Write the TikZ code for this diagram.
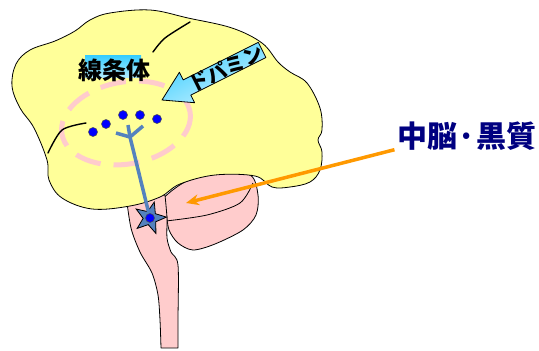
\documentclass[tikz,border=0pt]{standalone}
\usepackage{fontspec}
\newfontfamily\jp{Noto Sans CJK JP}
\usetikzlibrary{arrows.meta}
\usetikzlibrary{shapes.geometric}
\definecolor{brainyellow}{RGB}{255,255,153}
\definecolor{stempink}{RGB}{255,204,204}
\definecolor{neuronblue}{RGB}{84,130,190}
\definecolor{skyblue}{RGB}{51,204,255}
\definecolor{fibreorange}{RGB}{255,153,0}
\definecolor{labelnavy}{RGB}{0,0,128}

\begin{document}
\begin{tikzpicture}[x=1pt, y=-1pt, line width=0.8pt,
		lobe/.style={draw=black, line join=round},
		sulcus/.style={line width=1.4pt, line cap=round},
		cell/.style={circle, fill=blue, draw=black!70, line width=0.5pt,
						inner sep=0pt, minimum size=9pt},
		axon/.style={neuronblue, line width=3.5pt}]

		\useasboundingbox (0,0) rectangle (539,351);

		% cerebellum and brainstem, partly under the cerebrum
		\filldraw[lobe, fill=stempink] plot[smooth cycle] coordinates {(162,200) (185,182)
			(215,174) (250,175) (258,195) (256,215) (243,230) (215,244) (193,250) (178,243)
			(169,230) (166,212)};
		\draw plot[smooth] coordinates {(166,221) (207,215) (240,203) (253,183)};
		\filldraw[lobe, fill=stempink] plot[smooth] coordinates {(126,195) (131,228) (140,252)
			(152,273) (158,295) (160,320) (161,348)}
			-- plot[smooth] coordinates {(178,348) (178,320) (178,265) (171,252) (167,238)
			(167,218) (165,195)} -- cycle;

		% cerebrum
		\filldraw[lobe, fill=brainyellow] plot[smooth cycle, tension=0.6] coordinates {(12,86)
			(16,64) (30,50) (55,41) (75,31) (90,20) (110,13) (150,10) (188,18) (232,28) (262,43)
			(278,62) (290,72) (307,83) (320,108) (322,130) (318,140) (322,152) (320,170)
			(310,182) (290,187) (272,187) (255,176) (215,175) (180,184) (160,197) (130,206)
			(92,209) (62,198) (49,180) (47,160) (34,128) (20,108)};
		\draw[sulcus] plot[smooth] coordinates {(153,52) (165,38) (190,22)};

		% striatum region
		\draw[stempink, line width=5pt, dash pattern=on 26pt off 13pt,
			rotate around={10:(126,123)}] (126,123) ellipse [x radius=65, y radius=41];
		\draw[sulcus] plot[smooth] coordinates {(48,153) (62,130) (86,123)};

		\foreach \p [count=\i] in {(93,132),(106,124),(123,115),(140,115),(157,119)}
			\node[cell] (d\i) at \p {};

		% nigrostriatal neuron
		\node[star, star points=5, star point ratio=2.4, minimum size=33pt, inner sep=0pt,
			shape border rotate=-15, draw=black, fill=neuronblue] (soma) at (150,218) {};
		\coordinate (yj) at (130,137);
		\coordinate (yl) at (116,133);
		\coordinate (yu) at (128,125);
		\coordinate (yr) at (143,126);
		\draw[axon] (yl) -- (yj) -- (yr);
		\draw[axon] (yu) -- (yj) -- (soma.center);
		\node[cell] (sc) at (soma.center) {};

		% dopamine input
		\shade[draw=black, line width=0.8pt, line join=round, top color=skyblue,
			bottom color=white!75!skyblue, shading angle=27]
			(162,100) -- (179.4,72.3) -- (183.2,79.9) -- (258.3,42.3) -- (265.9,57.5)
			-- (190.8,95.1) -- (194.6,102.7) -- cycle;
		\node[font=\jp\bfseries\fontsize{20}{20}\selectfont, inner sep=0pt, rotate=26.6]
			(da) at (226,68) {ドパミン};

		\shade[top color=skyblue, bottom color=skyblue!40!white] (85,55) rectangle (141,77);
		\node[font=\jp\bfseries\fontsize{24}{24}\selectfont, inner sep=0pt] (st) at (114,70) {線条体};

		% label
		\node[labelnavy, inner sep=0pt, font=\jp\bfseries\fontsize{30}{30}\selectfont]
			(mb) at (467,136) {中脳·黒質};
		\coordinate (sn) at (186,203);
		\draw[fibreorange, line width=3.5pt, -{Stealth[length=13pt, width=11pt]}]
			([xshift=-3pt, yshift=1pt]mb.south west) -- (sn);
	\end{tikzpicture}
\end{document}
